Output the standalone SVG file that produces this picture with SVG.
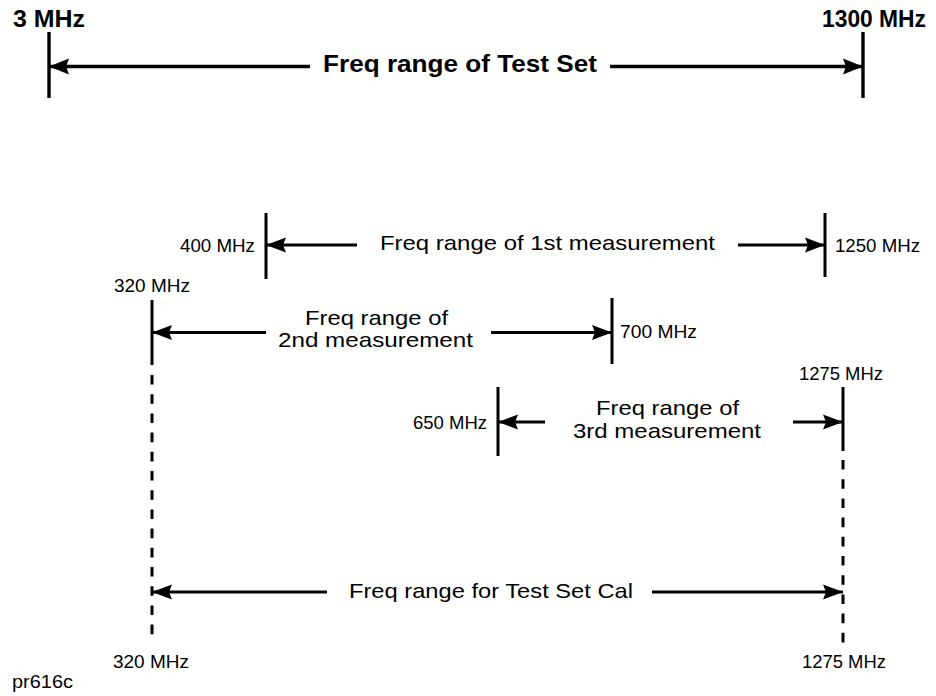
<svg xmlns="http://www.w3.org/2000/svg" width="936" height="696" viewBox="0 0 936 696">
<style>
.bg{fill:#fff}
.tick{stroke:#000;stroke-width:3;fill:none}
.tickb{stroke:#000;stroke-width:3.4;fill:none}
.dash{stroke:#000;stroke-width:3;fill:none;stroke-dasharray:9.6 9.6}
.arr{stroke:#000;stroke-width:2.8;fill:none;marker-end:url(#ah)}
.arrb{stroke:#000;stroke-width:3.4;fill:none;marker-end:url(#ahb)}
text{font-family:"Liberation Sans",Arial,sans-serif;fill:#000}
.big{font-size:24px;font-weight:bold}
.mid{font-size:21px}
.sm{font-size:18px}
</style>
<defs>
<marker id="ah" markerUnits="userSpaceOnUse" viewBox="0 0 20 16" refX="20" refY="8" markerWidth="20" markerHeight="16" orient="auto">
<path d="M0,0.5 L20,8 L0,15.5 L3,8 Z" fill="#000"/>
</marker>
<marker id="ahb" markerUnits="userSpaceOnUse" viewBox="0 0 20 17" refX="20" refY="8.5" markerWidth="20" markerHeight="17" orient="auto">
<path d="M0,0.5 L20,8.5 L0,16.5 L3,8.5 Z" fill="#000"/>
</marker>
</defs>
<rect class="bg" x="0" y="0" width="936" height="696"/>

<g id="tick-3MHz">
<line class="tickb" x1="49" y1="32" x2="49" y2="98"/>
<text class="big" x="13" y="27" textLength="72" lengthAdjust="spacingAndGlyphs">3 MHz</text>
</g>
<g id="tick-1300MHz">
<line class="tickb" x1="863" y1="32" x2="863" y2="98"/>
<text class="big" x="822" y="27" textLength="104" lengthAdjust="spacingAndGlyphs">1300 MHz</text>
</g>
<g id="tick-400MHz">
<line class="tick" x1="266" y1="213" x2="266" y2="279"/>
<text class="sm" x="180" y="252" textLength="75" lengthAdjust="spacingAndGlyphs">400 MHz</text>
</g>
<g id="tick-1250MHz">
<line class="tick" x1="825" y1="213" x2="825" y2="277"/>
<text class="sm" x="835" y="252" textLength="85" lengthAdjust="spacingAndGlyphs">1250 MHz</text>
</g>
<g id="tick-320MHz">
<line class="tick" x1="152" y1="300" x2="152" y2="365"/>
<line class="dash" x1="152" y1="375" x2="152" y2="643"/>
<text class="sm" x="114" y="292" textLength="76" lengthAdjust="spacingAndGlyphs">320 MHz</text>
<text class="sm" x="113" y="668" textLength="76" lengthAdjust="spacingAndGlyphs">320 MHz</text>
</g>
<g id="tick-700MHz">
<line class="tick" x1="612" y1="298" x2="612" y2="364"/>
<text class="sm" x="620" y="338" textLength="77" lengthAdjust="spacingAndGlyphs">700 MHz</text>
</g>
<g id="tick-650MHz">
<line class="tick" x1="498" y1="387" x2="498" y2="456"/>
<text class="sm" x="413" y="429" textLength="74" lengthAdjust="spacingAndGlyphs">650 MHz</text>
</g>
<g id="tick-1275MHz">
<line class="tick" x1="843" y1="387" x2="843" y2="451"/>
<line class="dash" x1="843" y1="460" x2="843" y2="643"/>
<text class="sm" x="799" y="380" textLength="84" lengthAdjust="spacingAndGlyphs">1275 MHz</text>
<text class="sm" x="802" y="668" textLength="84" lengthAdjust="spacingAndGlyphs">1275 MHz</text>
</g>

<g id="labels">
<text class="big" x="323" y="72" textLength="274" lengthAdjust="spacingAndGlyphs">Freq range of Test Set</text>
<text class="mid" x="380" y="250" textLength="335" lengthAdjust="spacingAndGlyphs">Freq range of 1st measurement</text>
<text class="mid" x="305" y="325" textLength="143" lengthAdjust="spacingAndGlyphs">Freq range of</text>
<text class="mid" x="278" y="347" textLength="195" lengthAdjust="spacingAndGlyphs">2nd measurement</text>
<text class="mid" x="596" y="415" textLength="143" lengthAdjust="spacingAndGlyphs">Freq range of</text>
<text class="mid" x="573" y="438" textLength="188" lengthAdjust="spacingAndGlyphs">3rd measurement</text>
<text class="mid" x="349" y="598" textLength="284" lengthAdjust="spacingAndGlyphs">Freq range for Test Set Cal</text>
<text class="sm" x="12" y="688" textLength="61" lengthAdjust="spacingAndGlyphs">pr616c</text>
</g>

<g id="connectors">
<line class="arrb" x1="310" y1="66.5" x2="49" y2="66.5"/>
<line class="arrb" x1="610" y1="66.5" x2="863" y2="66.5"/>
<line class="arr" x1="357" y1="245" x2="266" y2="245"/>
<line class="arr" x1="738" y1="245" x2="825" y2="245"/>
<line class="arr" x1="266" y1="332.5" x2="152" y2="332.5"/>
<line class="arr" x1="491" y1="332.5" x2="612" y2="332.5"/>
<line class="arr" x1="545" y1="422" x2="498" y2="422"/>
<line class="arr" x1="793" y1="422" x2="843" y2="422"/>
<line class="arr" x1="327" y1="592" x2="152" y2="592"/>
<line class="arr" x1="652" y1="592" x2="843" y2="592"/>
</g>
</svg>
